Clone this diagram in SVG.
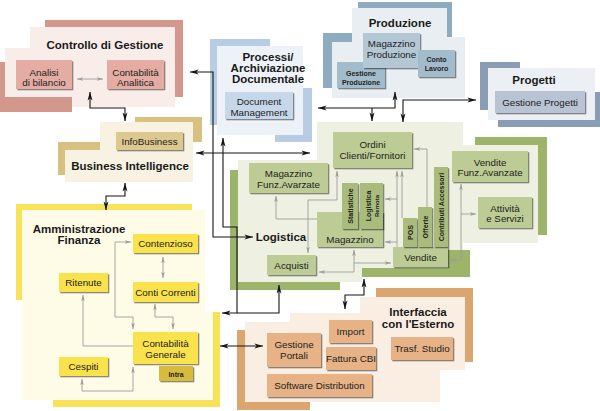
<svg xmlns="http://www.w3.org/2000/svg" width="600" height="411" viewBox="0 0 600 411">
<defs>
<style>
.t{font-family:'Liberation Sans',Arial,sans-serif;font-size:9.8px;fill:#222;text-anchor:middle}
.h{font-family:'Liberation Sans',Arial,sans-serif;font-size:11.5px;font-weight:bold;fill:#1a1a1a;text-anchor:middle}
.s{font-size:7px;font-weight:bold}
.b{filter:url(#sh)}
.bk{fill:none;stroke:#141414;stroke-width:1.1}
.gr{fill:none;stroke:#9c9c9c;stroke-width:0.9}
.cg{fill:#e4aca2}.pd{fill:#c6d7ea}.pr{fill:#a3bccc}.pj{fill:#b8c3d4}.bi{fill:#ddc98f}
.am{fill:#f9e24c}.lo{fill:#bdcc94}.lv{fill:#aabc7c}.ie{fill:#e7b386}
</style>
<filter id="sh" x="-15%" y="-15%" width="140%" height="160%"><feDropShadow dx="1.3" dy="1.3" stdDeviation="0.3" flood-color="#000" flood-opacity="0.45"/></filter>
<marker id="ab" viewBox="0 0 10 6" refX="9.5" refY="3" markerWidth="9" markerHeight="6" markerUnits="userSpaceOnUse" orient="auto-start-reverse"><path d="M0,0.3 L10,3 L0,5.7 L2.5,3 Z" fill="#141414"/></marker>
<marker id="ag" viewBox="0 0 10 6" refX="9.5" refY="3" markerWidth="6.5" markerHeight="4.5" markerUnits="userSpaceOnUse" orient="auto-start-reverse"><path d="M0,0.3 L10,3 L0,5.7 L2.5,3 Z" fill="#9c9c9c"/></marker>
</defs>
<rect width="600" height="411" fill="#fff"/>

<g id="controllo">
<rect x="45" y="20" width="138" height="77" fill="#d4978c"/>
<rect x="0" y="62" width="72" height="50" fill="#d4978c"/>
<path d="M30,27 H175 V107 H72 V97 H5 V48 H30 Z" fill="#f9ede9"/>
<text class="h" x="105" y="49">Controllo di Gestione</text>
<rect class="b cg" x="16" y="60" width="56" height="29"/>
<text class="t" x="44" y="75.5">Analisi</text><text class="t" x="44" y="86">di bilancio</text>
<rect class="b cg" x="107" y="60" width="57" height="29"/>
<text class="t" x="135.5" y="75.5">Contabilità</text><text class="t" x="135.5" y="86">Analitica</text>
</g>

<g id="processi">
<rect x="210" y="39" width="60" height="86" fill="#b8cde3"/>
<rect x="275" y="88" width="37" height="54" fill="#b8cde3"/>
<rect x="217" y="46" width="86" height="89" fill="#edf2f8"/>
<text class="h" x="268" y="61">Processi/</text>
<text class="h" x="268" y="72">Archiviazione</text>
<text class="h" x="268" y="83">Documentale</text>
<rect class="b pd" x="225" y="92" width="68" height="27"/>
<text class="t" x="259" y="105">Document</text><text class="t" x="259" y="116">Management</text>
</g>

<g id="produzione">
<rect x="358" y="2" width="94" height="35" fill="#8eabbf"/>
<rect x="323" y="33" width="40" height="55" fill="#8eabbf"/>
<path d="M352,8 H447 V37 H465 V98 H332 V42 H352 Z" fill="#e8eef2"/>
<text class="h" x="400" y="27">Produzione</text>
<rect class="b pr" x="337" y="62" width="48" height="26"/>
<text class="t s" x="361" y="75.5">Gestione</text><text class="t s" x="361" y="84.5">Produzione</text>
<rect class="b" x="363" y="33" width="57" height="35" fill="#b3c7d5"/>
<text class="t" x="391.5" y="47">Magazzino</text><text class="t" x="391.5" y="58">Produzione</text>
<rect class="b pr" x="418" y="50" width="37" height="27"/>
<text class="t s" x="436.5" y="61.5">Conto</text><text class="t s" x="436.5" y="70.5">Lavoro</text>
</g>

<g id="progetti">
<rect x="480" y="62" width="40" height="48" fill="#8a9db5"/>
<rect x="498" y="92" width="102" height="35" fill="#8a9db5"/>
<rect x="488" y="68" width="107" height="52" fill="#eceff4"/>
<text class="h" x="534" y="84">Progetti</text>
<rect class="b pj" x="495" y="91" width="90" height="22"/>
<text class="t" x="540" y="105.5">Gestione Progetti</text>
</g>

<g id="bi">
<rect x="135" y="117" width="67" height="25" fill="#d8c080"/>
<rect x="58" y="142" width="42" height="33" fill="#d8c080"/>
<path d="M100,122 H193 V182 H65 V150 H100 Z" fill="#f7f2e2"/>
<rect class="b bi" x="116" y="132" width="67" height="18"/>
<text class="t" x="149.5" y="144.5">InfoBusiness</text>
<text class="h" x="130" y="169.5">Business Intelligence</text>
</g>

<g id="amministrazione">
<rect x="16" y="204" width="176" height="96" fill="#f8e25a"/>
<rect x="53" y="312" width="167" height="95" fill="#f8e25a"/>
<path d="M22,210 H205 V312 H213 V400 H22 Z" fill="#fefbe6"/>
<text class="h" x="79" y="233">Amministrazione</text>
<text class="h" x="79" y="244">Finanza</text>
<rect class="b am" x="133" y="234" width="65" height="19"/>
<text class="t" x="165.5" y="247">Contenzioso</text>
<rect class="b am" x="133" y="282" width="65" height="20"/>
<text class="t" x="165.5" y="295.5">Conti Correnti</text>
<rect class="b am" x="59" y="273" width="49" height="19"/>
<text class="t" x="83.5" y="286">Ritenute</text>
<rect class="b am" x="133" y="332" width="65" height="32"/>
<text class="t" x="165.5" y="346.5">Contabilità</text><text class="t" x="165.5" y="357.5">Generale</text>
<rect class="b am" x="59" y="357" width="49" height="19"/>
<text class="t" x="83.5" y="370">Cespiti</text>
<rect class="b" x="159" y="366" width="34" height="15" fill="#d6bb3e"/>
<text class="t s" x="176" y="376.5">Intra</text>
</g>

<g id="logistica">
<rect x="230" y="170" width="110" height="120" fill="#9db56b"/>
<rect x="362" y="250" width="108" height="27" fill="#9db56b"/>
<path d="M317,122 H463 V250 H448 V268 H362 V282 H238 V160 H317 Z" fill="#eef0e1"/>
<rect x="475" y="137" width="72" height="98" fill="#9db56b"/>
<rect x="447" y="145" width="91" height="98" fill="#eef0e1"/>
<text class="h" x="281" y="241">Logistica</text>
<rect class="b lo" x="333" y="132" width="79" height="36"/>
<text class="t" x="372.5" y="147.5">Ordini</text><text class="t" x="372.5" y="158.5">Clienti/Fornitori</text>
<rect class="b lo" x="249" y="163" width="79" height="30"/>
<text class="t" x="288.5" y="176.5">Magazzino</text><text class="t" x="288.5" y="187.5">Funz.Avarzate</text>
<rect class="b lo" x="317" y="212" width="66" height="35"/>
<text class="t" x="350" y="243">Magazzino</text>
<rect class="b lv" x="342" y="183" width="16" height="46"/>
<text class="t s" transform="translate(352.5,206) rotate(-90)">Statistiche</text>
<rect class="b lv" x="360" y="183" width="23" height="46"/>
<text class="t s" transform="translate(371,206) rotate(-90)">Logistica</text>
<text class="t s" style="font-size:6px" transform="translate(378.5,206) rotate(-90)">Remota</text>
<rect class="b lo" x="267" y="255" width="49" height="20"/>
<text class="t" x="291.5" y="268.5">Acquisti</text>
<rect class="b lo" x="393" y="247" width="55" height="20"/>
<text class="t" x="420.5" y="260.5">Vendite</text>
<rect class="b lv" x="403" y="218" width="14" height="29"/>
<text class="t s" transform="translate(412.5,232.5) rotate(-90)">POS</text>
<rect class="b lv" x="418" y="207" width="14" height="40"/>
<text class="t s" transform="translate(427.5,227) rotate(-90)">Offerte</text>
<rect class="b lv" x="434" y="167" width="14" height="80"/>
<text class="t s" transform="translate(443.5,207) rotate(-90)">Contributi Accessori</text>
<rect class="b lo" x="452" y="151" width="76" height="31"/>
<text class="t" x="490" y="165.5">Vendite</text><text class="t" x="490" y="176">Funz.Avanzate</text>
<rect class="b lo" x="478" y="197" width="54" height="31"/>
<text class="t" x="505" y="211.5">Attività</text><text class="t" x="505" y="222">e Servizi</text>
</g>

<g id="interfaccia">
<rect x="376" y="288" width="97" height="74" fill="#dba570"/>
<rect x="237" y="330" width="73" height="80" fill="#dba570"/>
<path d="M245,322 H290 V313 H360 V297 H465 V370 H440 V402 H245 Z" fill="#faede1"/>
<text class="h" x="418" y="316">Interfaccia</text>
<text class="h" x="418" y="327.5">con l'Esterno</text>
<rect class="b ie" x="267" y="333" width="54" height="34"/>
<text class="t" x="294" y="347.5">Gestione</text><text class="t" x="294" y="358.5">Portali</text>
<rect class="b ie" x="329" y="320" width="43" height="23"/>
<text class="t" x="350.5" y="334.5">Import</text>
<rect class="b ie" x="326" y="347" width="50" height="23"/>
<text class="t" x="351" y="362">Fattura CBI</text>
<rect class="b ie" x="391" y="337" width="62" height="23"/>
<text class="t" x="422" y="351.5">Trasf. Studio</text>
<rect class="b ie" x="267" y="374" width="105" height="23"/>
<text class="t" x="319.5" y="389">Software Distribution</text>
</g>

<g id="connectors">
<g class="gr" marker-end="url(#ag)">
<path d="M77,79 H103" marker-start="url(#ag)"/>
<path d="M163,257 V278" marker-start="url(#ag)"/>
<path d="M131,242 H115 V317 H133 V329" marker-start="url(#ag)"/>
<path d="M155,304 V317 H173 V329" marker-start="url(#ag)"/>
<path d="M133,346 H83 V295"/>
<path d="M82,379 V391 H133 V367" marker-start="url(#ag)"/>
<path d="M276,196 V219 H317" marker-end="none" marker-start="url(#ag)"/>
<path d="M337,171 V200 H308 V253" marker-start="url(#ag)"/>
<path d="M354,250 V272 H319" marker-start="url(#ag)"/>
<path d="M354,263 H391"/>
<path d="M397,247 V171"/>
<path d="M402,218 V171"/>
<path d="M397,199 H385"/>
<path d="M397,242 H385"/>
<path d="M427,207 V149 H414"/>
<path d="M450,260 H461 V184" marker-start="url(#ag)"/>
<path d="M461,214 H476"/>
</g>
<g class="bk" marker-end="url(#ab)" marker-start="url(#ab)">
<path d="M190,72 H213 V237 H253"/>
<path d="M223,138 V227 H237 V313 H222"/>
<path d="M279,285 V313 H237" marker-end="none"/>
<path d="M196,153 H310"/>
<path d="M90,92 V108 H125 V121"/>
<path d="M125,183 V196 H106 V210"/>
<path d="M220,346 H263"/>
<path d="M318,108 H395 V92"/>
<path d="M372,108 V121" marker-start="none"/>
<path d="M403,122 V100 H476"/>
<path d="M364,279 V295 H345 V309"/>
</g>
</g>
</svg>
